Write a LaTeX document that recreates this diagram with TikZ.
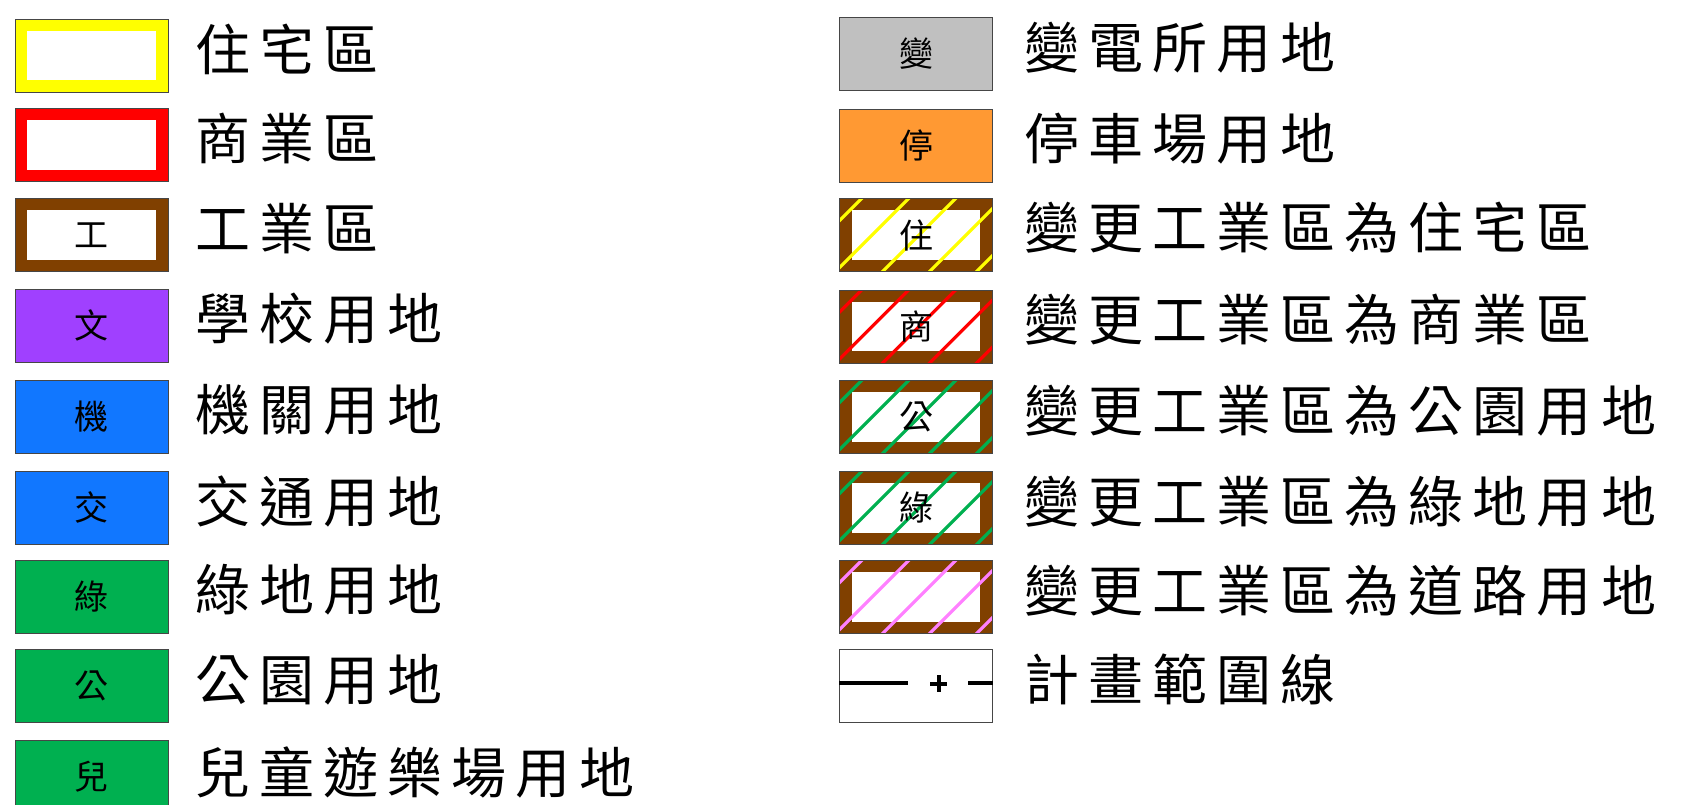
\documentclass[tikz,border=0pt]{standalone}
\usepackage{fontspec}
\newfontfamily\cjk{Noto Sans CJK TC}
\newfontfamily\cjkbig[LetterSpace=16.5]{Noto Sans CJK TC}
\definecolor{cyel}{RGB}{255,255,0}
\definecolor{cred}{RGB}{255,0,0}
\definecolor{cbrown}{RGB}{128,64,0}
\definecolor{cpurple}{RGB}{160,64,255}
\definecolor{cblue}{RGB}{17,119,255}
\definecolor{cgreen}{RGB}{0,176,80}
\definecolor{cgray}{RGB}{192,192,192}
\definecolor{corange}{RGB}{255,153,51}
\definecolor{cpink}{RGB}{255,128,255}
\definecolor{cedge}{RGB}{70,70,70}
\tikzset{
  keybox/.style={draw=cedge, line width=0.5pt, minimum width=76.5pt, minimum height=36.5pt,
    inner sep=0pt, font=\cjk\fontsize{17}{20}\selectfont},
  ringbox/.style={keybox, fill=#1, path picture={
    \fill[white] ([shift={(6.2pt,-5.8pt)}]path picture bounding box.north west)
      rectangle ([shift={(-6.2pt,5.8pt)}]path picture bounding box.south east);}},
  hatchbox/.style={keybox, fill=cbrown, path picture={
    \fill[white] ([shift={(6.2pt,-5.8pt)}]path picture bounding box.north west)
      rectangle ([shift={(-6.2pt,5.8pt)}]path picture bounding box.south east);
    \foreach \o in {11,34.5,58,81.5,105}{
      \draw[#1, line width=1.6pt]
        ([shift={(-130pt,-\o pt-130pt)}]path picture bounding box.north west) --
        ([shift={(130pt,-\o pt+130pt)}]path picture bounding box.north west);}}},
  label/.style={anchor=west, inner sep=0pt, font=\cjkbig\fontsize{27.5}{30}\selectfont},
}
\begin{document}
\begin{tikzpicture}[x=0.5pt, y=-0.5pt]
\useasboundingbox (0,0) rectangle (1701,804);
% left column
\node[ringbox=cyel] (b1) at (91.5,55.5) {};
\node[label] (t1) at (195,49) {住宅區};
\node[ringbox=cred] (b2) at (91.5,145) {};
\node[label] (t2) at (195,138.5) {商業區};
\node[ringbox=cbrown] (b3) at (91.5,235) {工};
\node[label] (t3) at (195,228.5) {工業區};
\node[keybox, fill=cpurple] (b4) at (91.5,325.5) {文};
\node[label] (t4) at (195,319) {學校用地};
\node[keybox, fill=cblue] (b5) at (91.5,416.5) {機};
\node[label] (t5) at (195,410) {機關用地};
\node[keybox, fill=cblue] (b6) at (91.5,507.5) {交};
\node[label] (t6) at (195,501) {交通用地};
\node[keybox, fill=cgreen] (b7) at (91.5,596.5) {綠};
\node[label] (t7) at (195,590) {綠地用地};
\node[keybox, fill=cgreen] (b8) at (91.5,686) {公};
\node[label] (t8) at (195,679.5) {公園用地};
\node[keybox, fill=cgreen] (b9) at (91.5,776.5) {兒};
\node[label] (t9) at (195,772) {兒童遊樂場用地};
% right column
\node[keybox, fill=cgray] (r1) at (916,53.5) {變};
\node[label] (u1) at (1024,48) {變電所用地};
\node[keybox, fill=corange] (r2) at (916,145.5) {停};
\node[label] (u2) at (1024,139) {停車場用地};
\node[hatchbox=cyel] (r3) at (916,235) {住};
\node[label] (u3) at (1024,228) {變更工業區為住宅區};
\node[hatchbox=cred] (r4) at (916,326.5) {商};
\node[label] (u4) at (1024,320) {變更工業區為商業區};
\node[hatchbox=cgreen] (r5) at (916,417) {公};
\node[label] (u5) at (1024,410.5) {變更工業區為公園用地};
\node[hatchbox=cgreen] (r6) at (916,508) {綠};
\node[label] (u6) at (1024,501.5) {變更工業區為綠地用地};
\node[hatchbox=cpink] (r7) at (916,597) {};
\node[label] (u7) at (1024,590.5) {變更工業區為道路用地};
\node[keybox, fill=white] (r8) at (916,686) {};
\node[label] (u8) at (1024,679.5) {計畫範圍線};
% boundary line symbol
\coordinate (p1) at (908,683);
\coordinate (p2) at (968,683);
\coordinate (pc) at (938.5,683.5);
\draw[line width=2pt] (r8.west |- p1) -- (p1);
\draw[line width=2pt] (p2) -- (r8.east |- p2);
\draw[line width=2pt] ([xshift=-4.2pt]pc) -- ([xshift=4.2pt]pc);
\draw[line width=2pt] ([yshift=-4.2pt]pc) -- ([yshift=4.2pt]pc);
\end{tikzpicture}
\end{document}
